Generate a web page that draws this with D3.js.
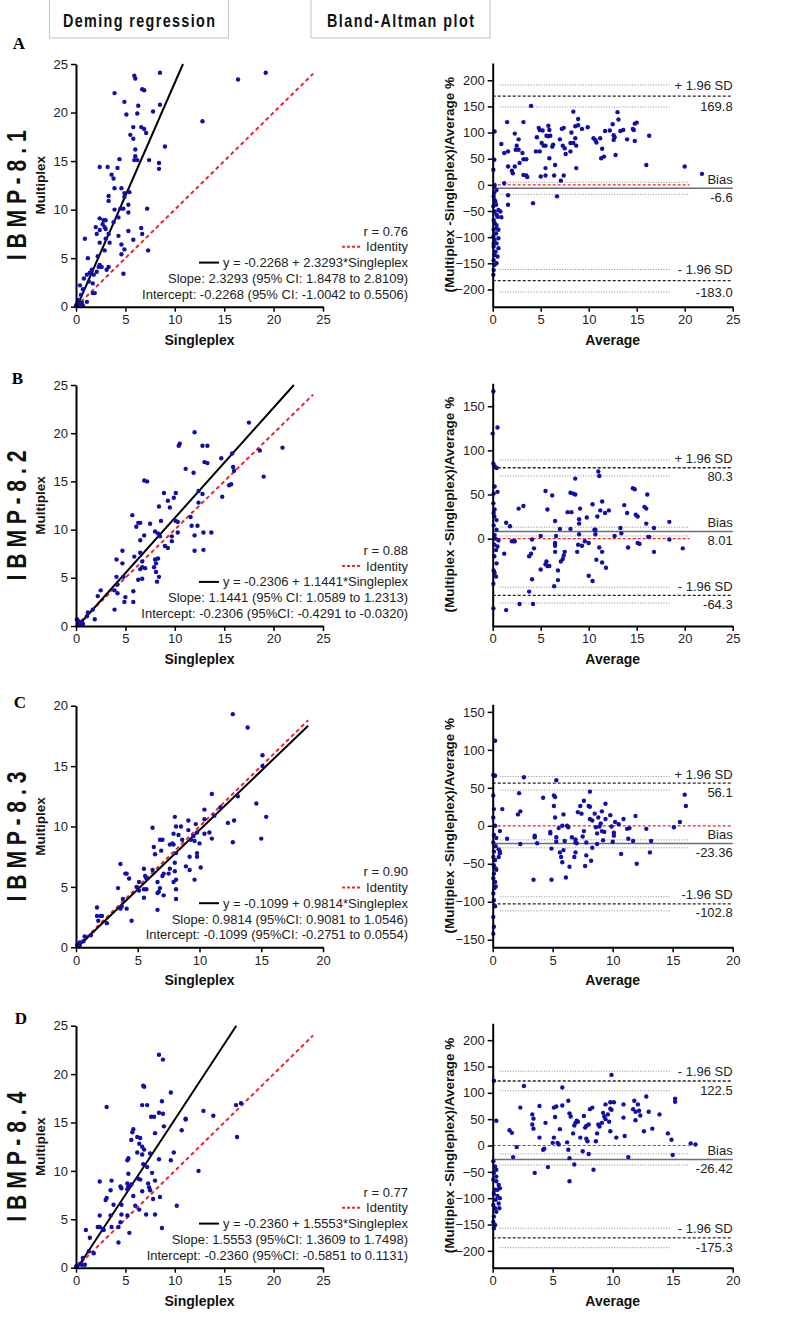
<!DOCTYPE html>
<html>
<head>
<meta charset="utf-8">
<script src="https://cdn.jsdelivr.net/npm/d3@7"></script>
<style>
  body { margin: 0; background: #fff; }
  svg { display: block; }
  text { font-family: "Liberation Sans", Arial, sans-serif; }
</style>
</head>
<body>
<svg id="chart" width="786" height="1333"></svg>
<script>
// ---- data ----
const panelLetters = ["A", "B", "C", "D"];
const assayNames = ["I B M P - 8 . 1", "I B M P - 8 . 2", "I B M P - 8 . 3", "I B M P - 8 . 4"];

// Deming regression: [singleplex, multiplex]
const demingA = [[19.2,24.1],[16.4,23.4],[12.8,19.1],[8.5,24.1],[5.9,23.8],[6.0,23.5],[3.9,22.0],[6.7,22.4],[6.9,22.3],[4.9,21.1],
  [6.3,20.7],[8.5,20.8],[7.8,20.1],[5.1,19.8],[6.2,19.9],[5.8,18.5],[6.6,18.5],[6.9,18.3],[5.5,17.7],[5.8,17.3],[7.1,17.9],[9.0,16.5],
  [6.0,16.2],[6.0,15.5],[5.9,15.1],[6.2,15.1],[7.4,15.1],[4.4,15.2],[8.4,14.8],[8.4,14.2],[2.4,14.4],[3.2,14.4],[4.2,14.3],[3.6,13.6],
  [3.8,13.2],[3.9,12.2],[4.6,12.2],[4.9,11.7],[5.4,11.8],[3.3,11.4],[3.3,10.9],[4.9,11.3],[5.3,10.5],[4.5,10.1],[3.9,10.0],[4.8,10.1],
  [5.3,9.7],[7.2,10.1],[4.3,9.2],[2.4,9.1],[2.8,8.9],[3.0,8.9],[3.8,8.7],[2.7,8.5],[2.9,8.2],[2.0,8.2],[2.4,7.9],[3.0,8.0],[5.3,7.8],
  [6.6,8.1],[6.7,7.5],[3.3,7.5],[2.1,7.5],[0.9,7.0],[3.0,7.0],[2.4,6.6],[3.4,6.6],[4.3,7.3],[5.8,6.9],[4.6,6.4],[4.9,5.9],[2.9,5.8],
  [7.3,5.8],[4.6,5.4],[1.2,5.0],[2.2,5.2],[2.4,4.3],[2.6,4.1],[2.3,4.1],[1.6,3.8],[1.4,3.5],[3.1,3.8],[3.3,4.1],[4.8,3.4],[2.1,3.6],
  [1.8,3.3],[1.1,3.3],[0.8,2.9],[0.4,2.2],[1.3,2.6],[1.7,2.4],[1.9,1.4],[1.7,1.4],[0.5,1.2],[0.7,1.8],[0.2,0.7],[0.1,0.3],[0.3,0.2],
  [0.6,0.4],[1.1,0.5],[0.7,0.1],[0.0,0.1]];
const demingB = [[17.5,21.1],[20.9,18.5],[18.6,18.2],[15.8,17.9],[14.7,17.4],[15.9,16.5],[16.0,16.1],[19.0,15.5],[15.5,14.6],[15.7,14.7],
  [14.8,13.4],[12.0,20.1],[12.8,18.7],[13.3,18.7],[10.5,18.9],[10.4,18.7],[11.1,16.3],[11.9,15.9],[13.0,17.0],[13.3,16.9],[12.4,14.0],
  [12.8,13.7],[12.4,12.8],[11.6,11.3],[12.3,10.4],[11.7,10.4],[12.0,9.4],[12.9,9.7],[13.7,9.7],[12.0,7.8],[12.9,7.9],[6.9,15.1],[7.2,15.0],
  [8.9,13.8],[10.1,13.8],[9.3,13.0],[9.5,12.3],[8.4,12.4],[9.9,13.3],[5.7,11.5],[8.6,10.9],[10.1,10.9],[10.3,10.8],[8.0,9.8],[8.3,9.6],
  [8.5,9.3],[9.7,9.3],[10.3,9.7],[9.7,8.8],[9.0,8.3],[9.3,8.1],[6.1,10.3],[6.3,10.7],[6.5,10.7],[7.5,10.6],[6.5,8.9],[6.9,9.4],[5.9,7.2],
  [6.5,7.6],[6.7,6.7],[6.7,6.1],[7.0,6.0],[6.5,5.9],[8.0,6.9],[8.3,7.0],[8.1,6.5],[7.9,6.1],[8.1,5.6],[8.4,5.1],[8.2,4.6],[6.7,4.9],
  [6.3,4.8],[4.7,7.8],[4.1,6.9],[4.7,6.5],[4.1,5.1],[4.8,5.1],[4.2,4.3],[3.9,3.7],[4.2,3.4],[5.8,3.6],[5.0,3.0],[4.9,2.5],[5.8,2.5],
  [3.9,1.7],[2.5,3.7],[2.2,3.1],[1.7,1.7],[1.9,0.7],[1.2,1.4],[1.1,1.0],[0.3,0.35],[0.6,0.45],[0.1,0.7],[0.2,0.55],[0.4,0.2],[0.7,0.2]];
const demingC = [[12.7,19.3],[13.9,18.2],[15.1,15.9],[15.1,15.0],[14.6,11.9],[15.4,10.8],[15.0,9.0],[12.7,8.7],[12.3,10.3],[12.8,10.5],
  [13.1,12.5],[11.0,12.7],[11.7,11.6],[11.2,10.9],[11.0,9.0],[10.8,9.5],[10.4,9.4],[10.4,10.6],[10.4,11.4],[10.0,8.6],[9.8,7.8],[9.8,7.5],
  [10.1,6.6],[9.8,9.5],[9.7,10.2],[9.6,8.8],[9.5,9.2],[9.1,10.5],[9.1,9.7],[9.3,8.9],[9.2,7.5],[9.2,6.4],[8.9,6.7],[9.6,5.6],[8.6,8.9],
  [8.5,10.0],[8.3,9.3],[8.1,10.0],[8.0,10.8],[7.9,9.4],[7.8,8.6],[7.9,8.5],[7.6,8.5],[8.1,7.8],[8.0,7.0],[8.0,6.3],[8.1,5.6],[7.6,6.5],
  [7.5,6.1],[7.9,5.4],[8.1,4.8],[8.1,4.0],[7.0,8.9],[6.8,8.9],[6.9,8.0],[6.3,8.3],[6.4,7.7],[6.2,9.9],[7.1,6.1],[7.0,5.9],[6.6,5.4],
  [6.7,4.6],[6.6,4.5],[6.8,4.9],[7.1,4.3],[6.6,3.1],[6.2,6.4],[5.7,5.7],[5.5,6.5],[5.6,5.9],[5.5,4.8],[5.7,4.8],[4.9,5.0],[5.1,4.7],
  [5.5,4.1],[5.1,5.4],[4.1,6.1],[4.0,6.1],[4.3,5.7],[3.6,6.9],[3.4,4.9],[3.8,4.0],[4.1,3.2],[3.6,3.2],[3.7,3.4],[4.5,2.2],[1.7,3.3],
  [1.7,2.6],[2.0,2.6],[2.1,2.6],[1.8,2.2],[2.5,2.0],[1.2,1.0],[0.7,0.9],[0.6,0.5],[0.3,0.4],[0.1,0.2],[0.3,0.1]];
const demingD = [[8.4,22.0],[8.8,21.5],[6.8,18.8],[6.9,18.7],[9.6,18.1],[8.7,17.2],[6.7,16.8],[7.2,16.8],[3.1,16.6],[8.4,16.0],[8.8,15.9],
  [7.6,15.6],[7.9,15.6],[8.9,14.6],[8.0,13.9],[5.8,14.3],[5.7,14.0],[6.2,13.5],[5.6,13.2],[6.5,13.4],[6.4,12.8],[6.7,12.5],[6.9,12.2],
  [6.2,11.9],[6.7,11.7],[7.5,11.8],[9.9,11.9],[8.4,11.2],[9.6,11.1],[10.7,14.2],[11.1,15.4],[11.1,15.3],[12.9,16.2],[13.9,15.7],[16.2,16.8],
  [16.7,17.0],[16.3,13.5],[12.4,10.0],[5.2,11.1],[5.3,11.3],[5.3,9.7],[6.8,10.7],[7.2,10.4],[6.3,9.2],[6.5,9.1],[7.7,9.8],[8.0,9.0],
  [7.3,8.7],[7.4,8.3],[7.5,8.0],[6.7,7.9],[7.8,7.1],[8.5,7.3],[10.2,6.4],[8.0,5.5],[7.1,5.5],[5.2,8.7],[5.3,8.4],[5.2,8.1],[5.6,8.6],
  [4.5,8.4],[4.6,8.2],[3.6,9.0],[3.5,8.0],[3.1,7.2],[3.0,7.0],[3.8,6.5],[2.4,8.9],[5.8,7.4],[6.0,6.4],[6.4,6.0],[4.6,6.5],[4.6,5.5],
  [5.2,5.4],[3.5,5.4],[4.5,4.7],[4.3,4.2],[3.6,4.2],[2.4,5.4],[2.2,4.2],[2.4,4.2],[2.7,4.0],[2.8,3.9],[1.0,3.9],[1.4,3.1],[5.4,3.6],
  [8.7,4.1],[4.3,2.6],[1.3,1.7],[1.8,1.5],[0.7,1.0],[0.4,0.4],[0.6,0.3],[0.9,0.3],[0.1,0.2],[0.0,0.1]];

// Bland-Altman: [average, (multiplex - singleplex)/average %]
const blandA = [[4.0,151],[8.4,140],[13.0,139],[13.1,125],[8.9,126],[1.5,120],[3.2,120],[0.2,102],[2.3,98],[2.7,87],[0.9,78],[1.2,61],
  [1.6,64],[2.4,67],[2.7,67],[2.5,75],[3.1,61],[3.2,49],[3.5,49],[2.8,42],[2.3,35],[2.1,22],[2.0,27],[1.6,35],[3.2,19],[3.5,18],[3.6,15],
  [1.2,3],[1.6,-20],[1.6,-38],[4.2,-35],[6.7,-22],[4.8,109],[4.9,105],[5.2,104],[4.6,91],[5.1,80],[4.5,64],[4.9,64],[5.3,75],[5.5,75],
  [5.8,113],[5.9,105],[5.8,93],[6.0,94],[5.6,94],[6.3,77],[6.2,73],[5.9,51],[5.5,32],[5.5,18],[5.0,16],[6.5,38],[6.4,18],[7.1,8],[7.4,18],
  [7.2,107],[7.4,109],[7.0,87],[7.3,75],[7.5,70],[7.6,59],[8.1,64],[8.1,80],[8.4,80],[8.6,89],[8.7,75],[8.6,112],[8.2,100],[8.9,114],
  [9.3,107],[9.9,110],[8.7,32],[10.5,89],[10.7,86],[10.8,81],[11.2,89],[11.4,69],[11.3,51],[11.6,54],[11.7,103],[12.2,104],[12.6,95],
  [12.6,86],[12.7,91],[12.8,57],[12.5,116],[13.3,103],[13.6,105],[14.0,87],[14.6,107],[14.7,105],[14.8,84],[14.8,117],[15.0,119],[16.0,38],
  [16.3,94],[20.0,35],[21.8,21],
  [0.07,29],[0.17,48],[0.2,0],[0.17,-15],[0.1,-22],[0.2,-29],[0.07,-41],[0.2,-51],[0.4,-57],[0.6,-48],[0.8,-51],[0.9,-62],[0.1,-67],
  [0.4,-77],[0.1,-86],[0.35,-93],[0.07,-99],[0.2,-105],[0.4,-112],[0.1,-118],[0.6,-121],[0.3,-128],[0.5,-137],[0.1,-144],[0.2,-153],
  [0.1,-163],[0.07,-172],[0.4,-83],[0.6,-102],[0.17,-134],[0.35,-38],[0.17,-3],[0.4,-10],[0.28,-32],[0.5,-61],[0.2,-73],[0.6,-86],
  [0.1,-112],[0.4,-150]];
const blandB = [[0.07,167],[0,119],[0.5,126],[0.07,85],[0.2,82],[0.4,80],[0.5,53],[0.2,59],[0.1,51],[0.07,40],[0.2,33],[0.17,25],[0.4,21],
  [0.1,15],[0.4,10],[0.2,4],[0.6,-2],[0.17,-7],[0.35,-13],[0.17,-20],[0.4,-28],[0.1,-36],[0.35,-43],[0.07,-79],[0.07,-51],[0.2,-39],
  [0.5,-9],[0.1,29],[0.3,0],[1.4,18],[1.2,-17],[1.8,14],[2.0,-3],[2.2,-3],[2.3,-3],[2.7,34],[3.2,37],[3.8,-20],[4.0,-17],[4.1,-1],
  [4.1,-46],[3.8,-60],[2.8,-74],[4.2,-74],[1.4,-81],[4.3,-11],[5.0,-35],[5.0,3],[5.5,54],[5.7,33],[5.6,-26],[5.7,-31],[5.5,-29],[5.9,-31],
  [6.4,-54],[6.2,49],[6.5,20],[6.5,-5],[6.5,-8],[6.5,-15],[6.6,3],[6.8,-36],[6.8,-47],[7.0,11],[7.1,-26],[7.3,-23],[7.4,-19],[7.5,-15],
  [7.8,30],[8.2,30],[8.1,52],[8.4,51],[8.6,50],[8.6,68],[8.1,11],[8.8,-15],[8.9,-7],[9.0,22],[9.0,17],[9.1,34],[9.0,5],[9.3,-8],[9.6,-3],
  [9.8,24],[10.0,-5],[10.0,-42],[10.4,39],[10.4,-48],[10.6,10],[10.7,5],[10.7,10],[10.8,-24],[10.9,25],[11.0,76],[11.1,71],[11.1,-10],
  [11.2,32],[11.4,42],[11.4,-15],[11.4,-27],[11.7,29],[11.8,-33],[12.1,32],[12.7,3],[13.3,12],[13.4,6],[13.7,38],[14.0,29],[14.1,-10],
  [14.6,57],[14.8,56],[14.9,27],[15.1,25],[15.1,-5],[15.3,-6],[15.8,36],[16.0,34],[16.1,50],[16.0,17],[16.2,2],[16.3,2],[16.8,12],
  [16.8,-15],[18.4,19],[18.4,-1],[19.8,-11]];
const blandC = [[0.2,112],[0.05,67],[0.2,66],[0.05,40],[0.1,22],[0.05,11],[0.2,0],[0.1,-12],[0.3,-16],[0.05,-22],[0.25,-27],[0.1,-34],
  [0.05,-41],[0.2,-45],[0.1,-52],[0.25,-56],[0.1,-63],[0.05,-69],[0.2,-74],[0.15,-82],[0.05,-89],[0.1,-98],[0.2,-106],[0.05,-120],
  [0.1,-133],[0.05,-142],[0.25,-80],[0.3,-58],[0.5,-31],[0.6,-36],[0.6,-34],[0.5,-41],[0.6,-7],[0.8,22],[1.2,-17],[2.1,15],[2.2,43],
  [2.3,19],[2.3,-24],[2.6,64],[3.4,-71],[3.5,-13],[3.5,-15],[3.7,-23],[4.2,37],[4.8,-8],[4.8,-10],[4.9,-30],[4.9,-71],[5.1,26],[5.1,40],
  [5.2,38],[5.2,11],[5.3,-15],[5.3,-21],[5.3,60],[5.5,-3],[5.6,-35],[5.7,-41],[5.8,-48],[5.8,0],[5.9,-32],[5.9,15],[6.0,-20],[6.1,-68],
  [6.2,0],[6.3,-2],[6.4,-54],[6.6,-15],[6.8,-41],[6.9,-35],[6.9,-22],[6.9,-18],[7.0,-23],[7.1,18],[7.3,26],[7.4,16],[7.5,-14],[7.6,33],
  [7.6,-7],[7.7,-53],[7.8,-39],[7.8,-22],[8.0,26],[8.1,45],[8.1,9],[8.1,25],[8.2,-46],[8.3,7],[8.3,-29],[8.5,16],[8.6,-2],[8.7,-24],
  [8.7,-10],[8.8,11],[8.9,-1],[9.0,3],[9.1,-7],[9.1,19],[9.2,-19],[9.3,-8],[9.4,29],[9.4,9],[9.8,14],[9.9,-1],[10.1,-9],[10.1,-13],
  [10.2,5],[10.0,-21],[10.5,2],[10.7,-37],[10.9,9],[11.2,-4],[11.3,-17],[11.4,-3],[11.7,-20],[11.9,13],[12.0,-50],[12.8,-4],[13.1,-35],
  [13.2,-20],[15.1,-2],[15.6,5],[16.0,41],[16.1,26]];
const blandD = [[9.9,134],[0.1,123],[2.6,113],[5.8,110],[0.3,47],[2.3,72],[3.9,75],[3.3,59],[3.4,51],[3.3,40],[3.4,32],[3.9,15],[1.4,29],
  [1.6,24],[1.7,-22],[2.0,-3],[3.5,-52],[4.2,-8],[4.3,-6],[4.4,43],[4.6,-41],[5.0,5],[5.1,15],[5.1,72],[5.2,54],[5.3,74],[5.4,5],[5.5,2],
  [5.8,76],[5.6,31],[6.2,6],[6.3,-8],[6.3,85],[6.4,-24],[6.4,-68],[6.4,61],[6.5,55],[6.7,23],[6.8,38],[6.9,43],[6.8,-36],[7.0,47],
  [7.1,45],[7.3,15],[7.5,-11],[7.6,56],[7.7,34],[7.8,37],[7.8,13],[7.9,8],[8.0,-16],[8.0,40],[8.1,69],[8.3,72],[8.4,-46],[8.6,8],[8.7,23],
  [8.8,40],[8.9,36],[9.1,43],[9.2,62],[9.3,55],[9.4,78],[9.4,50],[9.6,59],[9.7,45],[9.8,27],[9.8,70],[9.9,68],[9.8,82],[10.1,82],
  [10.3,15],[10.9,78],[10.9,53],[11.0,18],[11.3,-22],[11.7,69],[11.8,85],[11.9,48],[11.9,64],[12.1,78],[12.2,66],[12.3,57],[12.6,27],
  [12.8,93],[13.0,64],[13.3,32],[13.9,59],[14.6,23],[14.9,11],[15.0,-18],[15.2,89],[15.2,83],[16.5,4],[16.9,2],
  [0.05,-30],[0.2,-40],[0.3,-46],[0.1,-52],[0.05,-65],[0.3,-68],[0.5,-75],[0.6,-81],[0.2,-84],[0.1,-92],[0.4,-96],[0.25,-103],
  [0.05,-113],[0.5,-110],[0.2,-119],[0.3,-126],[0.1,-135],[0.05,-145],[0.2,-151],[0.1,-157],[0.55,-119],[0.6,-100],[0.4,-84],[0.3,-59]];

const demingPoints = [demingA, demingB, demingC, demingD];
const blandPoints = [blandA, blandB, blandC, blandD];

// Deming fit and identity line range
const demingIntercept = [-0.2268, -0.2306, -0.1099, -0.2360];
const demingSlope = [2.3293, 1.1441, 0.9814, 1.5553];
const fitRangeMax = [24, 24, 18.8, 24];
const leftAxisMax = [25, 25, 20, 25];
const leftTicks = [[0, 5, 10, 15, 20, 25], [0, 5, 10, 15, 20, 25], [0, 5, 10, 15, 20], [0, 5, 10, 15, 20, 25]];

const legendR = ["r = 0.76", "r = 0.88", "r = 0.90", "r = 0.77"];
const legendEq = ["y = -0.2268 + 2.3293*Singleplex", "y = -0.2306 + 1.1441*Singleplex",
  "y = -0.1099 + 0.9814*Singleplex", "y = -0.2360 + 1.5553*Singleplex"];
const legendSlope = ["Slope: 2.3293 (95% CI: 1.8478 to 2.8109)", "Slope: 1.1441 (95% CI: 1.0589 to 1.2313)",
  "Slope: 0.9814 (95%CI: 0.9081 to 1.0546)", "Slope: 1.5553 (95%CI: 1.3609 to 1.7498)"];
const legendIntercept = ["Intercept: -0.2268 (95% CI: -1.0042 to 0.5506)", "Intercept: -0.2306 (95%CI: -0.4291 to -0.0320)",
  "Intercept: -0.1099 (95%CI: -0.2751 to 0.0554)", "Intercept: -0.2360 (95%CI: -0.5851 to 0.1131)"];

// Bland-Altman limits
const rightXMax = [25, 25, 20, 20];
const rightXTicks = [[0, 5, 10, 15, 20, 25], [0, 5, 10, 15, 20, 25], [0, 5, 10, 15, 20], [0, 5, 10, 15, 20]];
const rightYDomain = [[-233, 233], [-99, 176], [-160, 160], [-232, 232]];
const rightYTicks = [[-200, -150, -100, -50, 0, 50, 100, 150, 200], [0, 50, 100, 150],
  [-150, -100, -50, 0, 50, 100, 150], [-200, -150, -100, -50, 0, 50, 100, 150, 200]];
const upperSD = [169.8, 80.3, 56.1, 122.5];
const upperCI = [[149, 191], [71, 89], [47, 65], [104, 141]];
const biasValue = [-6.6, 8.01, -23.36, -26.42];
const biasCI = [[-18, 5], [3, 13], [-29, -18.5], [-37, -16]];
const lowerSD = [-183.0, -64.3, -102.8, -175.3];
const lowerCI = [[-205, -162], [-73, -55], [-112, -93.5], [-194, -157]];
const upperName = ["+ 1.96 SD", "+ 1.96 SD", "+ 1.96 SD", "- 1.96 SD"];
const lowerName = ["- 1.96 SD", "- 1.96 SD", "-1.96 SD", "- 1.96 SD"];
const upperText = ["169.8", "80.3", "56.1", "122.5"];
const biasText = ["-6.6", "8.01", "-23.36", "-26.42"];
const lowerText = ["-183.0", "-64.3", "-102.8", "-175.3"];

// ---- layout ----
const layout = [
  { bottom: 306.7, leftTop: 64, rightTop: 63, letter: [19, 43], zeroEnd: 0.82 },
  { bottom: 626, leftTop: 385, rightTop: 383.3, letter: [17.5, 378], zeroEnd: 0.82 },
  { bottom: 947.3, leftTop: 705.7, rightTop: 704.3, letter: [20, 702], zeroEnd: 1 },
  { bottom: 1267.7, leftTop: 1025.7, rightTop: 1023.3, letter: [21, 1018], zeroEnd: 0.82 }
];
const L = { x0: 76, x1: 323 };
const R = { x0: 492.7, x1: 732.7 };
const dotColor = "#1010a8";

const svg = d3.select("#chart");

// header boxes (narrow, letter-spaced bold text)
const headers = [
  { text: "Deming regression", x: 49.5, w: 179, len: 152 },
  { text: "Bland-Altman plot", x: 311, w: 179, len: 147 }
];
const squeeze = 0.8;
headers.forEach(h => {
  svg.append("rect").attr("x", h.x).attr("y", -1).attr("width", h.w).attr("height", 39)
    .attr("fill", "#fff").attr("stroke", "#c4c4c4").attr("stroke-width", 1);
  svg.append("text")
    .attr("transform", `translate(${h.x + h.w / 2},27) scale(${squeeze},1)`)
    .attr("text-anchor", "middle")
    .style("font-weight", "bold").style("font-size", "18px").attr("fill", "#111")
    .attr("textLength", h.len / squeeze).attr("lengthAdjust", "spacing")
    .text(h.text);
});

function styleAxis(g) {
  g.select(".domain").attr("stroke", "#000").attr("stroke-width", 2);
  g.selectAll(".tick line").attr("stroke", "#000").attr("stroke-width", 1.5);
  g.selectAll(".tick text").attr("fill", "#222").style("font-size", "13px")
    .style("font-family", "'Liberation Sans', Arial, sans-serif");
}

layout.forEach((lay, i) => {
  // ---- panel letter and assay name ----
  svg.append("text").attr("x", lay.letter[0]).attr("y", lay.letter[1] + 6)
    .attr("text-anchor", "middle")
    .style("font-family", "'Liberation Serif', 'Times New Roman', serif")
    .style("font-weight", "bold").style("font-size", "17px").text(panelLetters[i]);

  const midL = (lay.bottom + lay.leftTop) / 2;
  svg.append("text").attr("transform", `translate(26,${midL + 10}) rotate(-90)`)
    .attr("text-anchor", "middle").style("font-weight", "bold").style("font-size", "27px")
    .attr("fill", "#111").attr("textLength", 130).attr("lengthAdjust", "spacingAndGlyphs")
    .text(assayNames[i]);

  // ---- Deming panel ----
  const x = d3.scaleLinear().domain([0, leftAxisMax[i]]).range([L.x0, L.x1]);
  const y = d3.scaleLinear().domain([0, leftAxisMax[i]]).range([lay.bottom, lay.leftTop]);

  const gl = svg.append("g");
  // identity line
  gl.append("line")
    .attr("x1", x(0)).attr("y1", y(0)).attr("x2", x(fitRangeMax[i])).attr("y2", y(fitRangeMax[i]))
    .attr("stroke", "#e8262b").attr("stroke-width", 2).attr("stroke-dasharray", "4,3");
  // Deming fit line
  const b = demingIntercept[i], m = demingSlope[i];
  const xs = Math.max(0, -b / m);
  const xe = Math.min(fitRangeMax[i], (leftAxisMax[i] - b) / m);
  gl.append("line")
    .attr("x1", x(xs)).attr("y1", y(b + m * xs)).attr("x2", x(xe)).attr("y2", y(b + m * xe))
    .attr("stroke", "#000").attr("stroke-width", 2);

  gl.selectAll(".dot").data(demingPoints[i]).enter().append("circle")
    .attr("cx", d => x(d[0])).attr("cy", d => y(d[1])).attr("r", 2.2).attr("fill", dotColor);

  gl.append("g").attr("transform", `translate(0,${lay.bottom})`)
    .call(d3.axisBottom(x).tickValues(leftTicks[i]).tickSize(5).tickSizeOuter(0).tickPadding(3))
    .call(styleAxis);
  gl.append("g").attr("transform", `translate(${L.x0},0)`)
    .call(d3.axisLeft(y).tickValues(leftTicks[i]).tickSize(5).tickSizeOuter(0).tickPadding(3))
    .call(styleAxis);

  gl.append("text").attr("x", (L.x0 + L.x1) / 2).attr("y", lay.bottom + 38)
    .attr("text-anchor", "middle").style("font-weight", "bold").style("font-size", "14px")
    .attr("fill", "#111").text("Singleplex");
  gl.append("text").attr("transform", `translate(45,${midL}) rotate(-90)`)
    .attr("text-anchor", "middle").style("font-weight", "bold").style("font-size", "13.5px")
    .attr("fill", "#111").text("Multiplex");

  // legend
  const legX = 408, step = 15.8;
  const legBase = lay.bottom - 12.5;
  const legLines = [legendR[i], "Identity", legendEq[i], legendSlope[i], legendIntercept[i]];
  legLines.forEach((t, k) => {
    const ty = legBase - (4 - k) * step;
    const tx = gl.append("text").attr("x", legX).attr("y", ty).attr("dy", "0.35em")
      .attr("text-anchor", "end").style("font-size", "13px").attr("fill", "#222").text(t);
    if (k === 1 || k === 2) {
      const w = tx.node().getComputedTextLength();
      gl.append("line").attr("x1", legX - w - 24).attr("x2", legX - w - 4)
        .attr("y1", ty).attr("y2", ty)
        .attr("stroke", k === 1 ? "#e8262b" : "#000").attr("stroke-width", 2)
        .attr("stroke-dasharray", k === 1 ? "3,2" : null);
    }
  });

  // ---- Bland-Altman panel ----
  const bx = d3.scaleLinear().domain([0, rightXMax[i]]).range([R.x0, R.x1]);
  const by = d3.scaleLinear().domain(rightYDomain[i]).range([lay.bottom, lay.rightTop]);
  const gr = svg.append("g");
  const W = R.x1 - R.x0;

  const hline = (v, x1, x2, stroke, width, dash) => gr.append("line")
    .attr("x1", x1).attr("x2", x2).attr("y1", by(v)).attr("y2", by(v))
    .attr("stroke", stroke).attr("stroke-width", width).attr("stroke-dasharray", dash);

  // confidence bands (dotted)
  [upperCI[i], lowerCI[i]].forEach(ci => ci.forEach(v => hline(v, R.x0 + 7, R.x0 + 177, "#8a8a8a", 1, "1,1.6")));
  biasCI[i].forEach(v => hline(v, R.x0 + 7, R.x0 + 197, "#8a8a8a", 1, "1,1.6"));
  // zero, bias, limits
  hline(0, R.x0, R.x0 + W * lay.zeroEnd, "#e8262b", 1.2, "3,2");
  hline(biasValue[i], R.x0, R.x1, "#6e6e6e", 1.5, null);
  hline(upperSD[i], R.x0, R.x1, "#222", 1.3, "3,2");
  hline(lowerSD[i], R.x0, R.x1, "#222", 1.3, "3,2");

  gr.selectAll(".dot").data(blandPoints[i]).enter().append("circle")
    .attr("cx", d => bx(d[0])).attr("cy", d => by(d[1])).attr("r", 2.2).attr("fill", dotColor);

  // labels: above / below each limit line
  const labelPair = (v, ci, top, bottomText) => {
    const above = Math.min(by(ci[1]), by(v) - 9);
    const below = Math.max(by(ci[0]), by(v) + 9);
    gr.append("text").attr("x", R.x1).attr("y", above).attr("dy", "0.35em").attr("text-anchor", "end")
      .style("font-size", "13px").attr("fill", "#222").text(top);
    gr.append("text").attr("x", R.x1).attr("y", below).attr("dy", "0.35em").attr("text-anchor", "end")
      .style("font-size", "13px").attr("fill", "#222").text(bottomText);
  };
  labelPair(upperSD[i], upperCI[i], upperName[i], upperText[i]);
  labelPair(biasValue[i], biasCI[i], "Bias", biasText[i]);
  labelPair(lowerSD[i], lowerCI[i], lowerName[i], lowerText[i]);

  gr.append("g").attr("transform", `translate(0,${lay.bottom})`)
    .call(d3.axisBottom(bx).tickValues(rightXTicks[i]).tickSize(5).tickSizeOuter(0).tickPadding(3))
    .call(styleAxis);
  gr.append("g").attr("transform", `translate(${R.x0},0)`)
    .call(d3.axisLeft(by).tickValues(rightYTicks[i]).tickSize(5).tickSizeOuter(0).tickPadding(3))
    .call(styleAxis);

  gr.append("text").attr("x", (R.x0 + R.x1) / 2).attr("y", lay.bottom + 38)
    .attr("text-anchor", "middle").style("font-weight", "bold").style("font-size", "14px")
    .attr("fill", "#111").text("Average");
  gr.append("text").attr("transform", `translate(454,${(lay.bottom + lay.rightTop) / 2}) rotate(-90)`)
    .attr("text-anchor", "middle").style("font-weight", "bold").style("font-size", "13.5px")
    .attr("fill", "#111").text("(Multiplex -Singleplex)/Average %");
});
</script>
</body>
</html>
